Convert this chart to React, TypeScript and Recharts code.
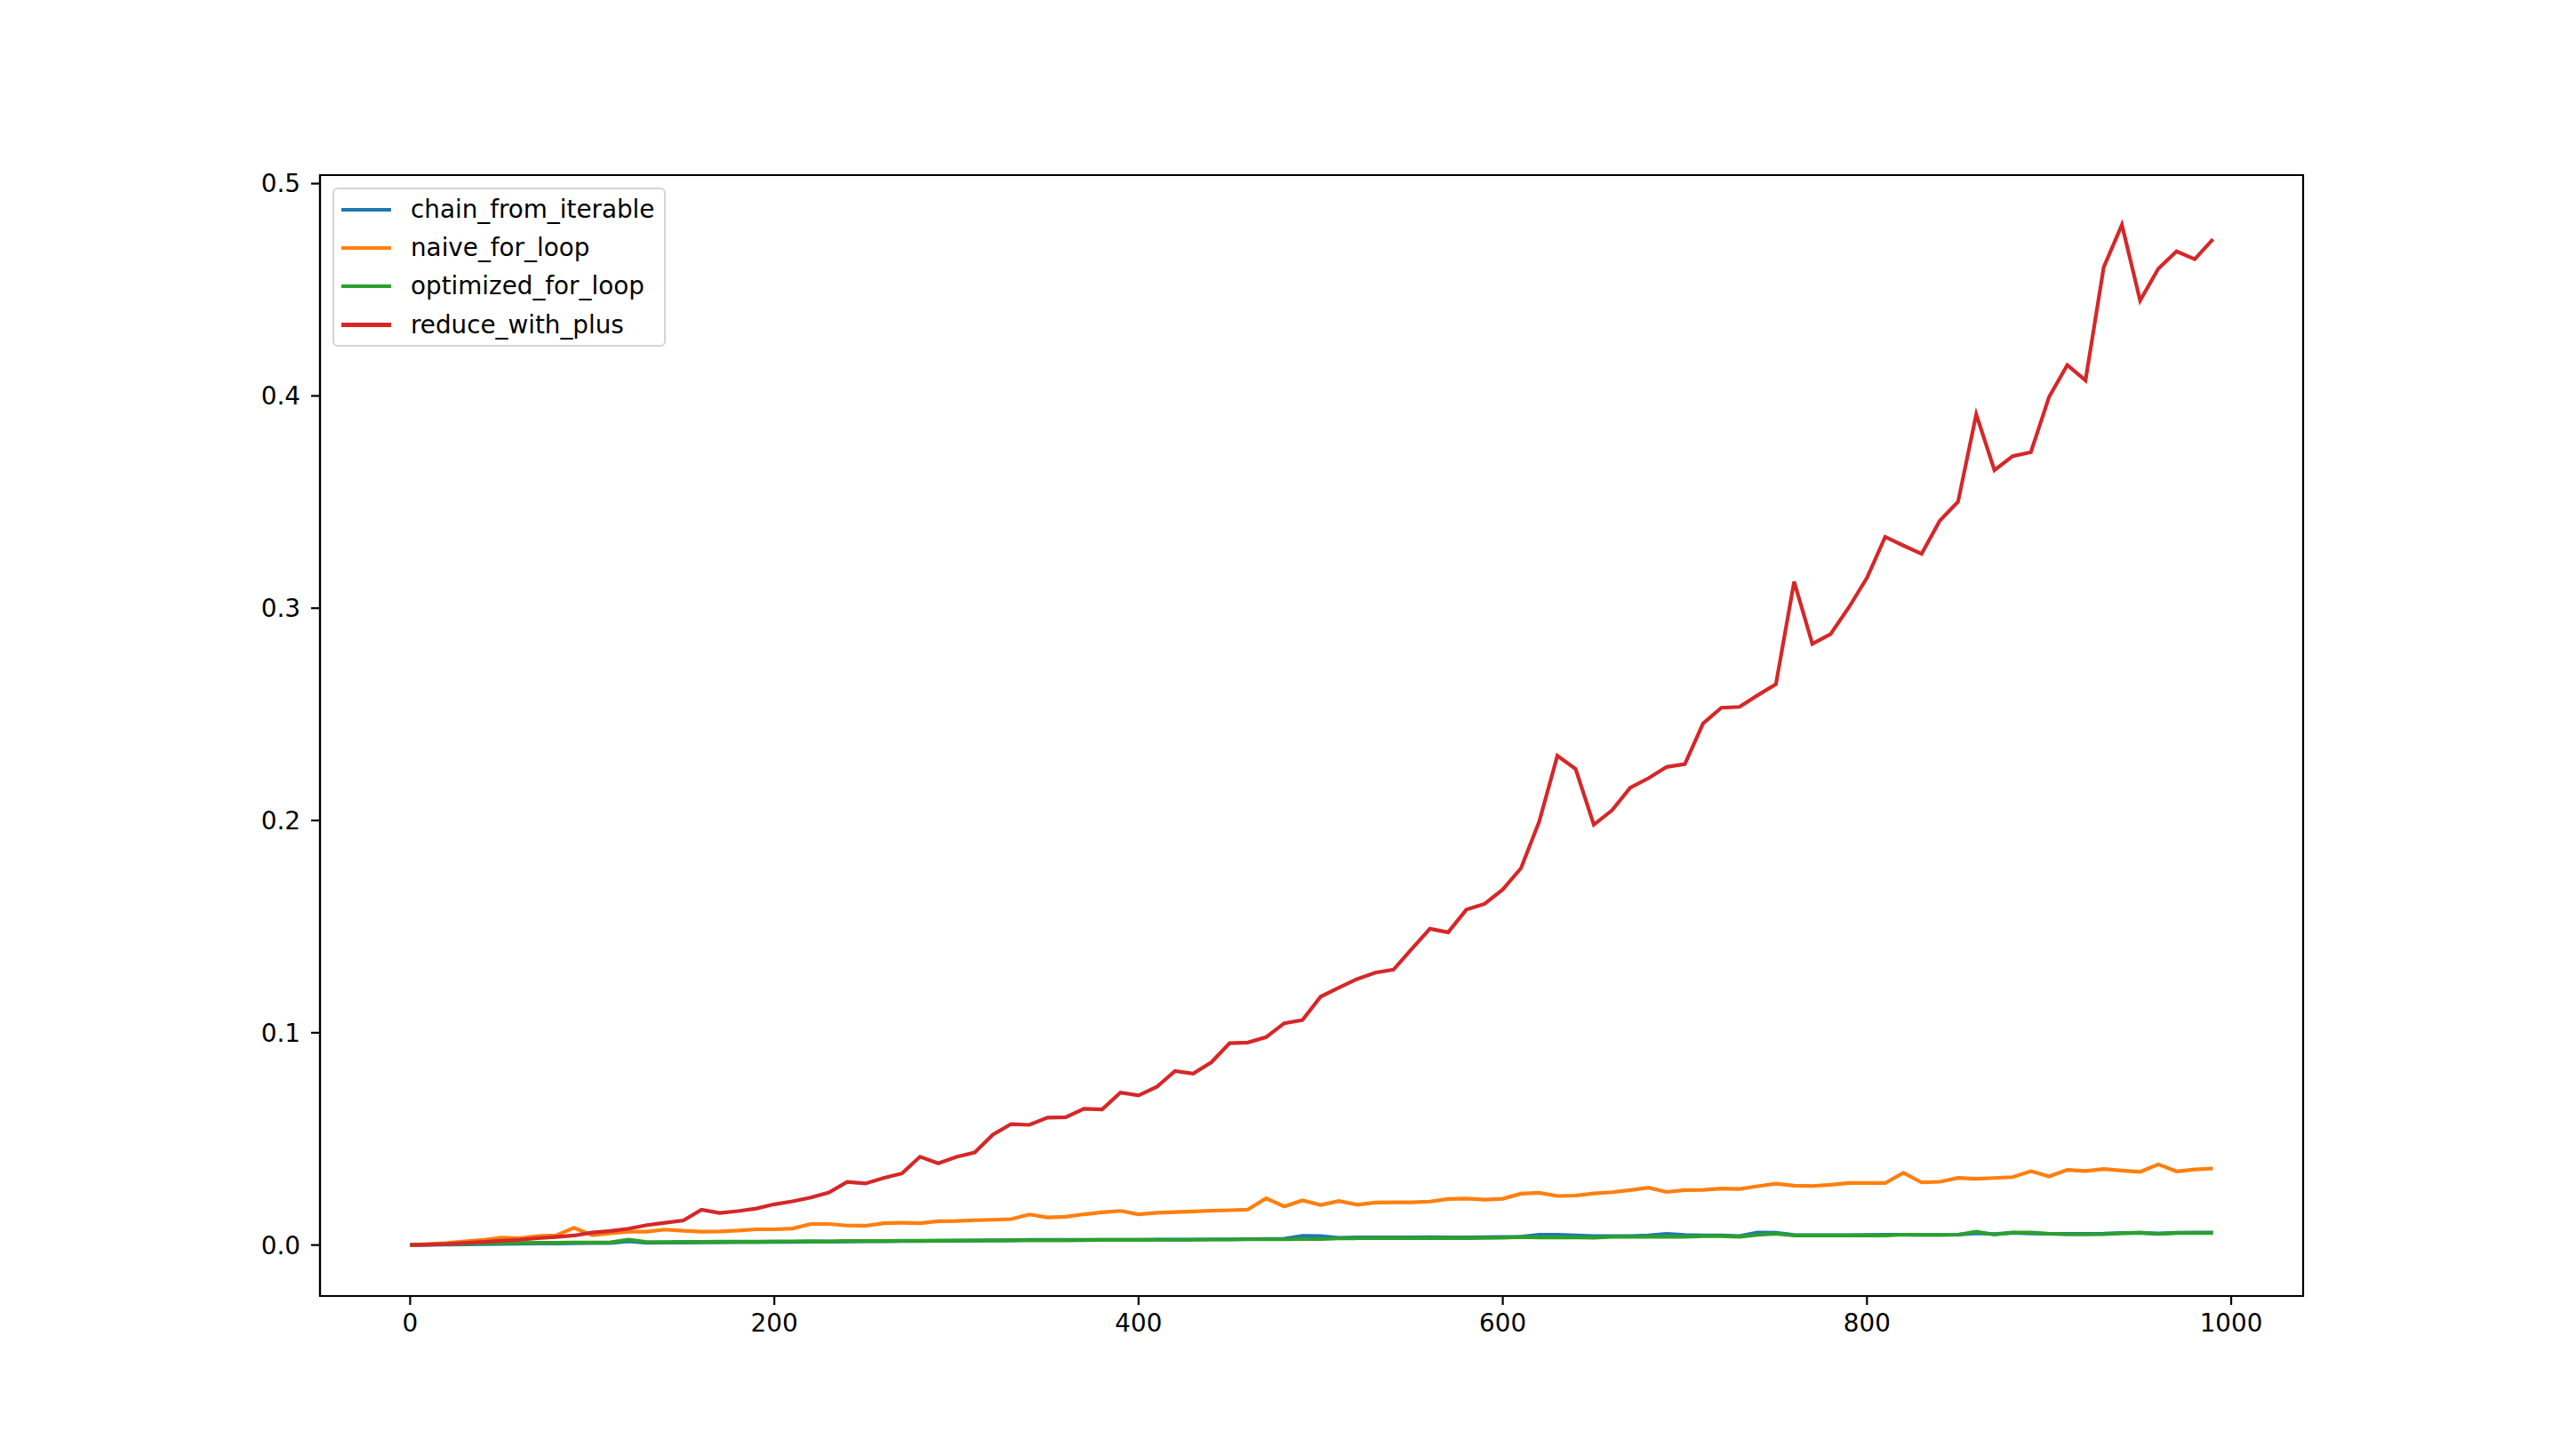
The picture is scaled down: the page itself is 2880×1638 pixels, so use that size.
import React from "react";
import {
  LineChart,
  Line,
  XAxis,
  YAxis,
  Legend,
  ReferenceArea,
} from "recharts";

// input sizes (x axis)
const sizes = [
  0, 10, 20, 30, 40, 50, 60, 70, 80, 90,
  100, 110, 120, 130, 140, 150, 160, 170, 180, 190,
  200, 210, 220, 230, 240, 250, 260, 270, 280, 290,
  300, 310, 320, 330, 340, 350, 360, 370, 380, 390,
  400, 410, 420, 430, 440, 450, 460, 470, 480, 490,
  500, 510, 520, 530, 540, 550, 560, 570, 580, 590,
  600, 610, 620, 630, 640, 650, 660, 670, 680, 690,
  700, 710, 720, 730, 740, 750, 760, 770, 780, 790,
  800, 810, 820, 830, 840, 850, 860, 870, 880, 890,
  900, 910, 920, 930, 940, 950, 960, 970, 980, 990,
];

const chainFromIterable = [
  0, 0.0001, 0.0002, 0.0003, 0.0004, 0.0005, 0.0006, 0.0007, 0.0007, 0.0008,
  0.0009, 0.001, 0.0018, 0.0011, 0.0012, 0.0012, 0.0013, 0.0013, 0.0014, 0.0014,
  0.0015, 0.0015, 0.0016, 0.0016, 0.0017, 0.0018, 0.0018, 0.0019, 0.0019, 0.002,
  0.002, 0.0021, 0.0022, 0.0022, 0.0025, 0.0025, 0.0024, 0.0024, 0.0025, 0.0025,
  0.0025, 0.0026, 0.0026, 0.0026, 0.0027, 0.0027, 0.0028, 0.0029, 0.003, 0.0043,
  0.0042, 0.0034, 0.0036, 0.0036, 0.0036, 0.0036, 0.0037, 0.0036, 0.0036, 0.0037,
  0.0038, 0.0039, 0.0049, 0.0049, 0.0045, 0.0042, 0.0042, 0.0042, 0.0045, 0.0053,
  0.0048, 0.0045, 0.0045, 0.0042, 0.0059, 0.0058, 0.0048, 0.0046, 0.0046, 0.0046,
  0.0047, 0.0049, 0.0049, 0.0048, 0.0048, 0.0049, 0.0056, 0.0052, 0.0058, 0.0055,
  0.0053, 0.0053, 0.0053, 0.0054, 0.0057, 0.0057, 0.0055, 0.0058, 0.0059, 0.0059,
];

const naiveForLoop = [
  0, 0.0005, 0.001, 0.0017, 0.0024, 0.0035, 0.0032, 0.0042, 0.0045, 0.0081,
  0.0046, 0.0056, 0.0063, 0.0063, 0.0073, 0.0067, 0.0063, 0.0064, 0.0068, 0.0074,
  0.0074, 0.0078, 0.0099, 0.0099, 0.0092, 0.0091, 0.0103, 0.0105, 0.0103, 0.0112,
  0.0113, 0.0117, 0.0119, 0.0122, 0.0144, 0.013, 0.0133, 0.0145, 0.0154, 0.0161,
  0.0145, 0.0152, 0.0155, 0.0158, 0.0162, 0.0164, 0.0167, 0.022, 0.0182, 0.021,
  0.0189, 0.0207, 0.019, 0.02, 0.0201, 0.0201, 0.0205, 0.0217, 0.0219, 0.0214,
  0.0218, 0.0242, 0.0246, 0.0231, 0.0233, 0.0243, 0.0249, 0.0259, 0.027, 0.025,
  0.0259, 0.026, 0.0266, 0.0264, 0.0277, 0.0289, 0.028, 0.0278, 0.0284, 0.0292,
  0.0292, 0.0292, 0.034, 0.0295, 0.0298, 0.0316, 0.0312, 0.0316, 0.032, 0.0348,
  0.0323, 0.0354, 0.0349, 0.0358, 0.0351, 0.0345, 0.038, 0.0347, 0.0356, 0.0361,
];

const optimizedForLoop = [
  0, 0.0002, 0.0004, 0.0006, 0.0008, 0.001, 0.001, 0.0011, 0.0011, 0.0012,
  0.0012, 0.0013, 0.0025, 0.0014, 0.0014, 0.0015, 0.0015, 0.0016, 0.0016, 0.0016,
  0.0017, 0.0017, 0.0018, 0.0017, 0.0019, 0.0019, 0.0019, 0.002, 0.002, 0.002,
  0.0021, 0.0021, 0.0021, 0.0022, 0.0022, 0.0022, 0.0022, 0.0023, 0.0024, 0.0024,
  0.0024, 0.0025, 0.0025, 0.0025, 0.0026, 0.0026, 0.0027, 0.0027, 0.0027, 0.0028,
  0.0028, 0.0031, 0.0032, 0.0032, 0.0032, 0.0032, 0.0033, 0.0033, 0.0033, 0.0034,
  0.0035, 0.0038, 0.0036, 0.0036, 0.0036, 0.0035, 0.0039, 0.0039, 0.0039, 0.0039,
  0.0039, 0.0042, 0.0042, 0.0039, 0.0048, 0.0053, 0.0045, 0.0045, 0.0045, 0.0045,
  0.0045, 0.0045, 0.0049, 0.0048, 0.0048, 0.0049, 0.0063, 0.0049, 0.0059, 0.0059,
  0.0053, 0.005, 0.005, 0.0051, 0.0056, 0.0059, 0.0052, 0.0057, 0.0057, 0.0057,
];

const reduceWithPlus = [
  0, 0.0002, 0.0005, 0.001, 0.0015, 0.002, 0.0025, 0.0032, 0.0038, 0.0045,
  0.0059, 0.0066, 0.0077, 0.0094, 0.0105, 0.0116, 0.0166, 0.0151, 0.016, 0.0172,
  0.0192, 0.0206, 0.0224, 0.0248, 0.0297, 0.029, 0.0316, 0.0337, 0.0416, 0.0385,
  0.0415, 0.0436, 0.052, 0.057, 0.0566, 0.06, 0.0602, 0.0642, 0.0639, 0.0718,
  0.0705, 0.0745, 0.082, 0.0808, 0.0861, 0.0951, 0.0954, 0.0979, 0.1045, 0.106,
  0.117, 0.1212, 0.1253, 0.1283, 0.1297, 0.1395, 0.149, 0.1473, 0.158, 0.1607,
  0.1675, 0.1775, 0.1995, 0.2305, 0.2243, 0.198, 0.2048, 0.2154, 0.2199, 0.2252,
  0.2266, 0.2457, 0.2531, 0.2535, 0.259, 0.2642, 0.3125, 0.2832, 0.2878, 0.3003,
  0.3143, 0.3336, 0.3295, 0.3256, 0.3412, 0.3501, 0.3913, 0.365, 0.3716, 0.3735,
  0.3995, 0.4145, 0.4073, 0.4606, 0.4806, 0.4449, 0.4599, 0.4681, 0.4644, 0.4738,
];

const xTicks = [0, 200, 400, 600, 800, 1000];
const yTicks = [0, 0.1, 0.2, 0.3, 0.4, 0.5];

const X_DOMAIN: [number, number] = [-49.5, 1039.5];
const Y_DOMAIN: [number, number] = [-0.024, 0.504];

const FONT = "'DejaVu Sans', sans-serif";
const FS = 27.8;
const LW = 4.17;

const data = sizes.map((n, i) => ({
  n,
  chain: chainFromIterable[i],
  naive: naiveForLoop[i],
  optimized: optimizedForLoop[i],
  reduce: reduceWithPlus[i],
}));

// matplotlib-style legend box, drawn from the legend payload
function LegendBox({ payload }: any) {
  return (
    <div
      style={{
        width: 375,
        height: 179,
        boxSizing: "border-box",
        border: "2px solid #d4d4d4",
        borderRadius: 6,
        background: "rgba(255,255,255,0.8)",
        paddingTop: 1,
        fontFamily: FONT,
        fontSize: FS,
        color: "#000",
      }}
    >
      {(payload || []).map((p: any) => (
        <div key={p.value} style={{ height: 43.3, display: "flex", alignItems: "center" }}>
          <div style={{ marginLeft: 8, width: 56, height: LW, background: p.color }} />
          <span style={{ marginLeft: 22, lineHeight: 1, whiteSpace: "nowrap" }}>{p.value}</span>
        </div>
      ))}
    </div>
  );
}

export default function App() {
  const tickStyle = { fill: "#000", fontSize: FS, fontFamily: FONT };
  return (
    <div style={{ position: "absolute", left: 0, top: 0, width: 2880, height: 1638, background: "#fff" }}>
      <LineChart
        width={2880}
        height={1638}
        data={data}
        margin={{ top: 197, right: 289, left: 260, bottom: 80 }}
      >
        <XAxis
          dataKey="n"
          type="number"
          domain={X_DOMAIN}
          ticks={xTicks}
          allowDataOverflow
          height={100}
          tick={tickStyle}
          tickSize={10}
          tickMargin={10}
          axisLine={{ stroke: "#000", strokeWidth: 2.2 }}
          tickLine={{ stroke: "#000", strokeWidth: 2.2 }}
        />
        <YAxis
          type="number"
          domain={Y_DOMAIN}
          ticks={yTicks}
          allowDataOverflow
          width={100}
          tick={tickStyle}
          tickSize={10}
          tickMargin={12}
          tickFormatter={(v: number) => v.toFixed(1)}
          axisLine={{ stroke: "#000", strokeWidth: 2.2 }}
          tickLine={{ stroke: "#000", strokeWidth: 2.2 }}
        />
        {/* axes frame */}
        <ReferenceArea
          x1={X_DOMAIN[0]}
          x2={X_DOMAIN[1]}
          y1={Y_DOMAIN[0]}
          y2={Y_DOMAIN[1]}
          fill="none"
          stroke="#000"
          strokeWidth={2.2}
        />
        <Line type="linear" dataKey="chain" name="chain_from_iterable" stroke="#1f77b4" strokeWidth={LW} dot={false} isAnimationActive={false} />
        <Line type="linear" dataKey="naive" name="naive_for_loop" stroke="#ff7f0e" strokeWidth={LW} dot={false} isAnimationActive={false} />
        <Line type="linear" dataKey="optimized" name="optimized_for_loop" stroke="#2ca02c" strokeWidth={LW} dot={false} isAnimationActive={false} />
        <Line type="linear" dataKey="reduce" name="reduce_with_plus" stroke="#d62728" strokeWidth={LW} dot={false} isAnimationActive={false} />
        <Legend
          layout="vertical"
          align="center"
          verticalAlign="middle"
          content={<LegendBox />}
          wrapperStyle={{ position: "absolute", left: 374, top: 211, width: 375, height: 179 }}
        />
      </LineChart>
    </div>
  );
}
